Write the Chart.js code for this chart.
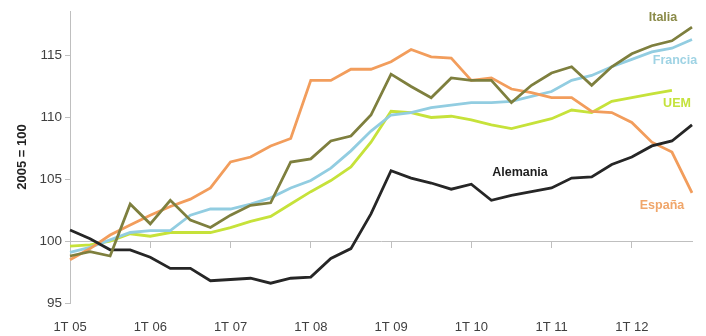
<!DOCTYPE html>
<html>
<head>
<meta charset="utf-8">
<script src="https://cdn.jsdelivr.net/npm/chart.js@4.4.1/dist/chart.umd.min.js"></script>
<style>
  html, body { margin: 0; padding: 0; background: #ffffff; }
  #wrap { width: 706px; height: 336px; }
</style>
</head>
<body>
<div id="wrap"><canvas id="c" width="706" height="336"></canvas></div>
<script>
// Quarterly index, 2005 = 100
const quarters = [
  '1T 05', '2T 05', '3T 05', '4T 05',
  '1T 06', '2T 06', '3T 06', '4T 06',
  '1T 07', '2T 07', '3T 07', '4T 07',
  '1T 08', '2T 08', '3T 08', '4T 08',
  '1T 09', '2T 09', '3T 09', '4T 09',
  '1T 10', '2T 10', '3T 10', '4T 10',
  '1T 11', '2T 11', '3T 11', '4T 11',
  '1T 12', '2T 12', '3T 12', '4T 12'
];

const italia = [98.8, 99.15, 98.8, 103.0, 101.4, 103.3, 101.7, 101.1, 102.1, 102.9, 103.1, 106.4,
  106.65, 108.1, 108.5, 110.2, 113.5, 112.5, 111.6, 113.2, 113.0, 113.0, 111.2, 112.6,
  113.6, 114.1, 112.6, 114.1, 115.15, 115.8, 116.2, 117.3];

const francia = [99.1, 99.5, 100.1, 100.7, 100.85, 100.85, 102.1, 102.6, 102.6, 103.0, 103.5, 104.3,
  104.9, 105.9, 107.3, 108.9, 110.2, 110.4, 110.8, 111.0, 111.2, 111.2, 111.3, 111.7,
  112.1, 113.0, 113.4, 114.1, 114.7, 115.3, 115.6, 116.3];

const uem = [99.6, 99.7, 100.0, 100.6, 100.4, 100.7, 100.7, 100.7, 101.1, 101.6, 102.0, 103.0,
  104.0, 104.9, 106.0, 108.0, 110.5, 110.4, 110.0, 110.1, 109.8, 109.4, 109.1, 109.5,
  109.9, 110.6, 110.4, 111.3, 111.6, 111.9, 112.2, null];

const alemania = [100.9, 100.2, 99.3, 99.3, 98.7, 97.8, 97.8, 96.8, 96.9, 97.0, 96.6, 97.0,
  97.1, 98.6, 99.4, 102.2, 105.7, 105.1, 104.7, 104.2, 104.6, 103.3, 103.7, 104.0,
  104.3, 105.1, 105.2, 106.2, 106.8, 107.7, 108.1, 109.4];

const espana = [98.5, 99.4, 100.5, 101.3, 102.1, 102.8, 103.4, 104.3, 106.4, 106.8, 107.7, 108.3,
  113.0, 113.0, 113.9, 113.9, 114.5, 115.5, 114.9, 114.8, 113.0, 113.2, 112.3, 112.0,
  111.6, 111.6, 110.5, 110.4, 109.6, 108.0, 107.2, 103.9];

const yTicks = [95, 100, 105, 110, 115];

const seriesNames = ['Italia', 'Francia', 'UEM', 'Alemania', 'España'];

const FONT = "'Liberation Sans', Arial, sans-serif";
const AXIS_GREY = '#bfbfbf';

// Series names written beside their lines
const lineLabels = {
  id: 'lineLabels',
  afterDatasetsDraw(chart) {
    const ctx = chart.ctx;
    const spots = [
      { text: seriesNames[0], x: 663, y: 18,  color: '#8a8a48' },
      { text: seriesNames[1], x: 675, y: 61,  color: '#9fd3e4' },
      { text: seriesNames[2], x: 677, y: 104, color: '#c4e23c' },
      { text: seriesNames[3], x: 520, y: 173, color: '#1e1e1e' },
      { text: seriesNames[4], x: 662, y: 206, color: '#f0a66a' }
    ];
    ctx.save();
    ctx.font = 'bold 12.5px ' + FONT;
    ctx.textAlign = 'center';
    ctx.textBaseline = 'middle';
    spots.forEach(s => {
      ctx.fillStyle = s.color;
      ctx.fillText(s.text, s.x, s.y);
    });
    ctx.restore();
  }
};

const line = (label, data, color, order) => ({
  label, data,
  borderColor: color,
  backgroundColor: color,
  borderWidth: 2.8,
  pointRadius: 0,
  pointHoverRadius: 0,
  tension: 0,
  fill: false,
  order
});

new Chart(document.getElementById('c'), {
  type: 'line',
  data: {
    labels: quarters,
    datasets: [
      line(seriesNames[0], italia, '#7e7f3e', 0),
      line(seriesNames[3], alemania, '#262626', 1),
      line(seriesNames[4], espana, '#f29d5c', 2),
      line(seriesNames[1], francia, '#92cde1', 3),
      line(seriesNames[2], uem, '#c6e23a', 4)
    ]
  },
  options: {
    responsive: false,
    animation: false,
    devicePixelRatio: 1,
    layout: { padding: { left: 0, right: 14, top: 7, bottom: 0 } },
    plugins: {
      legend: { display: false },
      tooltip: { enabled: false }
    },
    scales: {
      x: {
        type: 'category',
        position: 'bottom',
        offset: false,
        grid: { display: false },
        border: { display: false },
        ticks: {
          autoSkip: false,
          maxRotation: 0,
          minRotation: 0,
          padding: 9,
          color: '#404040',
          font: { family: FONT, size: 13 },
          callback: (v, i) => quarters[i].startsWith('1T') ? quarters[i] : ''
        },
        afterFit: s => { s.height = 33; }
      },
      xLine: {
        type: 'category',
        position: { y: 100 },
        offset: false,
        grid: {
          drawOnChartArea: false,
          drawTicks: true,
          tickLength: 6,
          tickWidth: 1,
          tickColor: c => (c.index > 0 && c.index % 4 === 0) ? AXIS_GREY : 'rgba(0,0,0,0)'
        },
        border: { display: true, color: AXIS_GREY, width: 1 },
        ticks: { display: false }
      },
      y: {
        min: 95,
        max: 118.6,
        grid: {
          drawOnChartArea: false,
          drawTicks: true,
          tickLength: 5,
          tickColor: c => (c.tick && yTicks.includes(c.tick.value)) ? AXIS_GREY : 'rgba(0,0,0,0)'
        },
        border: { display: true, color: AXIS_GREY, width: 1 },
        ticks: {
          stepSize: 5,
          padding: 3,
          color: '#404040',
          font: { family: FONT, size: 13.5 },
          callback: v => yTicks.includes(v) ? String(v) : ''
        },
        title: {
          display: true,
          text: '2005 = 100',
          color: '#222222',
          font: { family: FONT, size: 13, weight: 'bold' },
          padding: { top: 15, bottom: 0 }
        },
        afterFit: s => { s.width = 70; }
      }
    }
  },
  plugins: [lineLabels]
});
</script>
</body>
</html>
